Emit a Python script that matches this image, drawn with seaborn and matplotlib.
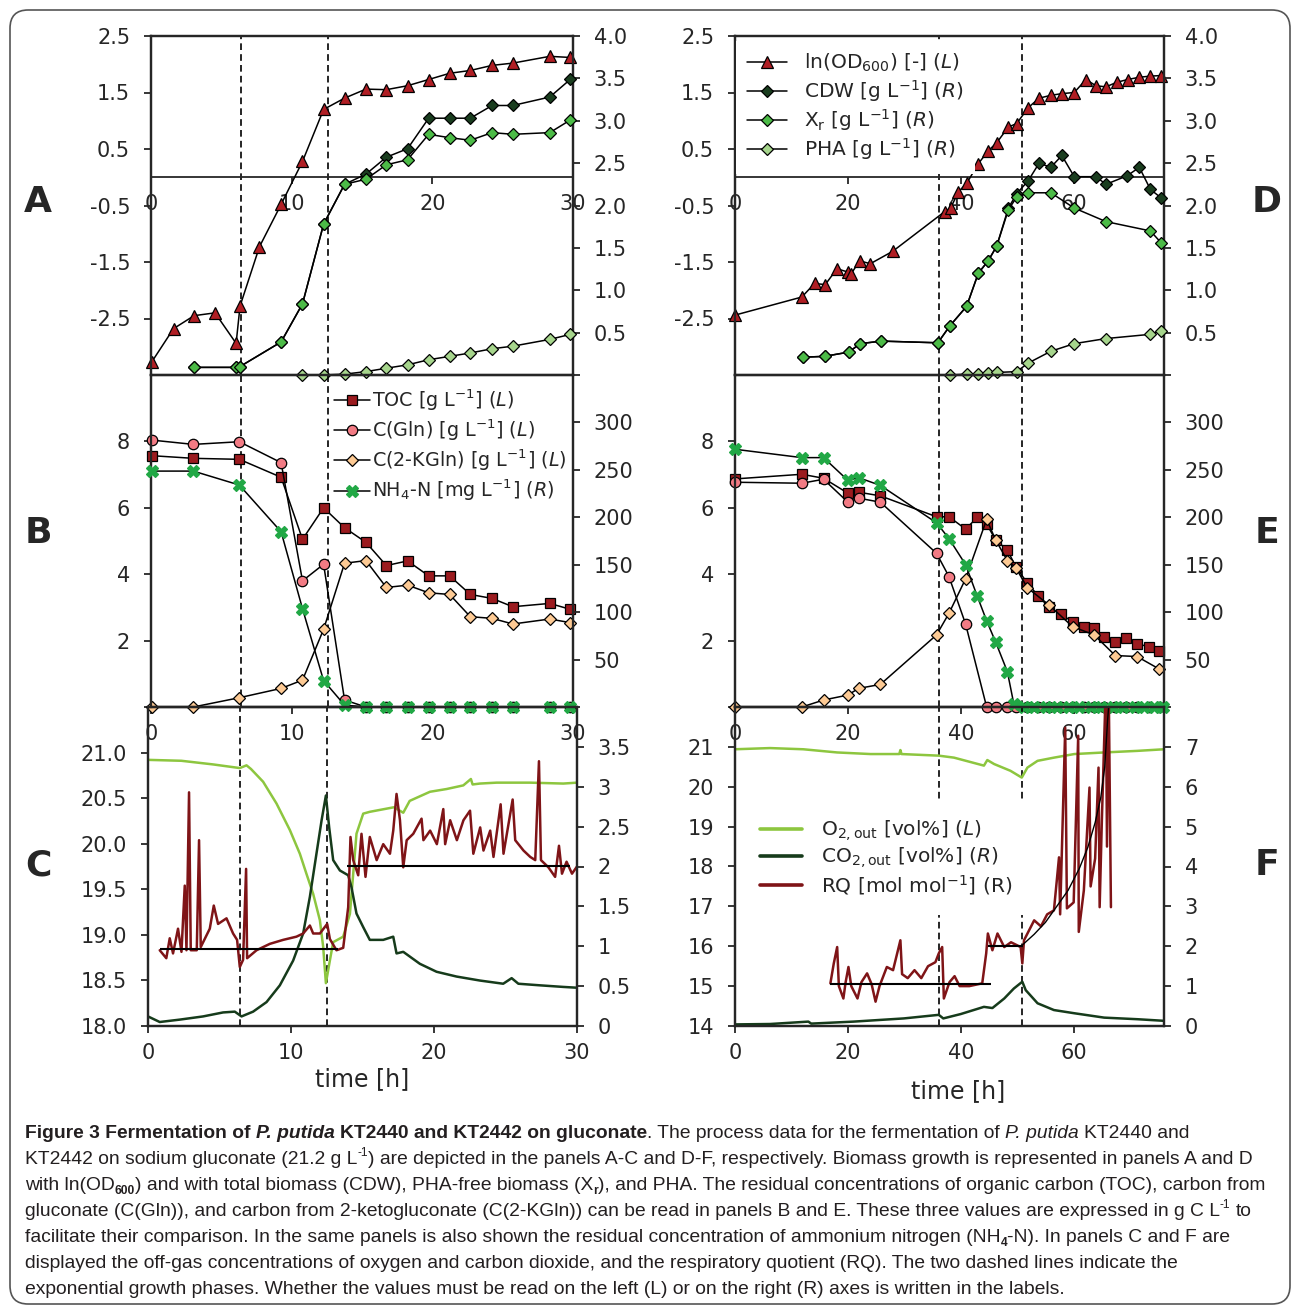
import matplotlib
matplotlib.use('Agg')
import matplotlib.pyplot as plt
import seaborn as sns
from matplotlib.patches import FancyBboxPatch

# ---------------- data ----------------
# panel A (KT2440, biomass)
a_t_od = [0.05, 1.6, 3.06, 4.55, 6.05, 6.33, 7.71, 9.25, 10.77, 12.27, 13.76, 15.28, 16.73,
          18.24, 19.74, 21.23, 22.7, 24.25, 25.72, 28.35, 29.82]
a_od = [-3.27, -2.68, -2.45, -2.40, -2.94, -2.28, -1.23, -0.48, 0.28, 1.20, 1.40, 1.56, 1.55,
        1.62, 1.73, 1.84, 1.89, 1.98, 2.02, 2.14, 2.12]
a_t_bio = [3.06, 6.05, 6.33, 9.25, 10.77, 12.27, 13.76, 15.28, 16.73, 18.24, 19.74, 21.23,
           22.7, 24.25, 25.72, 28.35, 29.82]
a_cdw = [0.09, 0.09, 0.10, 0.39, 0.84, 1.78, 2.25, 2.37, 2.57, 2.67, 3.03, 3.03, 3.03, 3.18,
         3.18, 3.28, 3.49]
a_xr = [0.09, 0.09, 0.10, 0.39, 0.84, 1.78, 2.25, 2.31, 2.48, 2.54, 2.84, 2.80, 2.77, 2.86,
        2.84, 2.86, 3.01]
a_t_pha = [10.77, 12.27, 13.76, 15.28, 16.73, 18.24, 19.74, 21.23, 22.7, 24.25, 25.72, 28.35, 29.82]
a_pha = [0.0, 0.0, 0.01, 0.04, 0.08, 0.12, 0.18, 0.22, 0.26, 0.31, 0.34, 0.42, 0.48]

# panel D (KT2442, biomass)
d_t_od = [0, 11.84, 14.09, 15.99, 18.06, 20.1, 20.5, 22.08, 23.98, 27.95, 37.12, 38.19, 39.55,
          41.03, 43.1, 44.88, 46.36, 48.43, 49.91, 51.92, 53.88, 55.95, 57.9, 60.1, 62.17, 63.94,
          65.72, 67.61, 69.57, 71.63, 73.59, 75.49]
d_od = [-2.44, -2.12, -1.88, -1.90, -1.62, -1.68, -1.72, -1.48, -1.53, -1.31, -0.61, -0.55, -0.26,
        -0.11, 0.24, 0.47, 0.61, 0.89, 0.95, 1.23, 1.40, 1.45, 1.48, 1.50, 1.73, 1.62,
        1.60, 1.68, 1.73, 1.77, 1.79, 1.80]
d_t_cdw = [12.02, 15.87, 20.13, 22.2, 25.93, 35.94, 38.07, 41.03, 43.1, 44.88, 46.36, 48.43,
           49.91, 51.92, 53.88, 55.95, 57.9, 60.1, 63.94, 65.72, 69.45, 71.63, 73.59, 75.49]
d_cdw = [0.21, 0.22, 0.27, 0.37, 0.40, 0.38, 0.58, 0.81, 1.20, 1.35, 1.52, 1.97,
         2.14, 2.29, 2.50, 2.45, 2.59, 2.34, 2.34, 2.25, 2.35, 2.45, 2.19, 2.09]
d_t_xr = [12.02, 15.87, 20.13, 22.2, 25.93, 35.94, 38.07, 41.03, 43.1, 44.88, 46.36, 48.43,
          49.91, 51.92, 55.95, 60.1, 65.72, 73.59, 75.49]
d_xr = [0.21, 0.22, 0.27, 0.37, 0.40, 0.38, 0.58, 0.81, 1.20, 1.35, 1.52, 1.95,
        2.10, 2.15, 2.15, 1.97, 1.81, 1.70, 1.56]
d_t_pha = [38.07, 41.03, 43.1, 44.88, 46.36, 49.91, 51.92, 55.95, 60.1, 65.72, 73.59, 75.49]
d_pha = [0.0, 0.01, 0.01, 0.02, 0.03, 0.04, 0.14, 0.28, 0.37, 0.43, 0.48, 0.52]

# panel B (KT2440, carbon / nitrogen)
b_t = [0.05, 3.01, 6.28, 9.25, 10.77, 12.27, 13.76, 15.28, 16.73, 18.24, 19.74, 21.23, 22.7,
       24.25, 25.72, 28.35, 29.82]
b_toc = [7.57, 7.49, 7.46, 6.92, 5.05, 6.00, 5.40, 4.96, 4.26, 4.40, 3.95, 3.95, 3.39, 3.27,
         3.02, 3.12, 2.94]
b_gln = [8.04, 7.91, 7.99, 7.36, 3.80, 4.30, 0.21, 0, 0, 0, 0, 0, 0, 0, 0, 0, 0]
b_kgln = [0.0, 0.0, 0.28, 0.56, 0.81, 2.34, 4.33, 4.41, 3.60, 3.67, 3.44, 3.39, 2.72, 2.67,
          2.50, 2.65, 2.54]
b_nh4 = [248.7, 248.7, 234.0, 184.7, 103.6, 27.8, 2.0, 0, 0, 0, 0, 0, 0, 0, 0, 0, 0]

# panel E (KT2442, carbon / nitrogen)
e_t = [0, 11.84, 15.69, 20.0, 21.9, 25.75, 35.7, 37.9, 40.85, 42.93, 44.58, 46.18, 48.25, 49.73,
       51.8, 53.7, 55.65, 57.73, 59.8, 61.76, 63.64, 65.42, 67.37, 69.27, 71.23, 73.3, 75.19]
e_toc = [6.87, 7.01, 6.89, 6.44, 6.47, 6.36, 5.73, 5.73, 5.36, 5.71, 5.51, 5.03, 4.73, 4.23,
         3.73, 3.35, 3.00, 2.79, 2.57, 2.40, 2.37, 2.12, 1.97, 2.09, 1.90, 1.82, 1.69]
e_t_gln = [0, 11.84, 15.69, 20.0, 21.9, 25.75, 35.7, 37.9, 40.85, 44.58, 46.18, 48.25, 49.73,
           51.8, 53.7, 55.65, 57.73, 59.8, 61.76, 63.64, 65.42, 67.37, 69.27, 71.23, 73.3, 75.19]
e_gln = [6.77, 6.74, 6.86, 6.17, 6.29, 6.17, 4.63, 3.93, 2.50, 0, 0, 0, 0,
         0, 0, 0, 0, 0, 0, 0, 0, 0, 0, 0, 0, 0]
e_t_kgln = [0, 11.84, 15.69, 20.0, 21.9, 25.75, 35.7, 37.9, 40.85, 44.58, 46.18, 48.25, 49.73,
            51.8, 55.65, 59.8, 63.64, 67.37, 71.23, 75.19]
e_kgln = [0, 0, 0.21, 0.36, 0.56, 0.68, 2.17, 2.82, 3.86, 5.65, 5.03, 4.41, 4.20,
          3.59, 3.07, 2.42, 2.17, 1.55, 1.52, 1.14]
e_t_nh4 = [0, 11.84, 15.69, 20.0, 21.9, 25.75, 35.7, 37.9, 40.85, 42.93, 44.58, 46.18, 48.25,
           49.4, 51.2, 53.0, 55.1, 57.1, 59.2, 61.0, 63.1, 64.8, 66.9, 68.7, 70.8, 72.5, 74.3, 75.8]
e_nh4 = [271.7, 262.9, 262.9, 238.9, 241.8, 233.6, 194.2, 177.6, 150.1, 116.6, 90.9, 68.4, 37.3,
         3.0, 0, 0, 0, 0, 0, 0, 0, 0, 0, 0, 0, 0, 0, 0]

# panel C (KT2440, off-gas)
c_t_o2 = [0, 2.33, 4.55, 6.42, 6.89, 7.2, 8.05, 8.99, 9.92, 10.62, 11.08, 11.55, 12.02, 12.25,
          12.44, 12.72, 12.95, 13.65, 14.12, 14.58, 15.05, 15.51, 17.2, 17.85, 18.3, 19.72,
          20.88, 22.05, 22.58, 22.7, 23.21, 24.38, 26.71, 29.04, 30]
c_o2 = [20.92, 20.91, 20.87, 20.83, 20.86, 20.82, 20.68, 20.44, 20.15, 19.89, 19.67, 19.45,
        19.16, 18.87, 18.47, 18.72, 18.92, 18.98, 19.23, 20.11, 20.33, 20.35, 20.40, 20.34,
        20.47, 20.57, 20.60, 20.64, 20.71, 20.65, 20.66, 20.67, 20.67, 20.66, 20.67]
c_t_co2 = [0, 0.82, 2.22, 3.85, 5.25, 6.07, 6.54, 7.35, 8.29, 9.22, 10.15, 10.85, 11.32, 11.78,
           12.14, 12.44, 12.67, 12.95, 13.42, 14.0, 14.23, 14.58, 15.05, 15.51, 16.45, 17.15,
           17.38, 17.85, 19.01, 20.18, 21.58, 23.21, 24.84, 25.43, 25.9, 27.41, 29.04, 30]
c_co2 = [0.12, 0.05, 0.08, 0.12, 0.17, 0.18, 0.12, 0.18, 0.30, 0.51, 0.82, 1.16, 1.62, 2.16,
         2.58, 2.89, 2.49, 2.08, 1.95, 1.89, 1.74, 1.41, 1.24, 1.08, 1.08, 1.12, 0.91, 0.93,
         0.78, 0.68, 0.62, 0.57, 0.53, 0.60, 0.53, 0.51, 0.49, 0.48]
c_t_rq = [0.82, 1.28, 1.52, 1.75, 2.10, 2.34, 2.57, 2.69, 2.87, 2.99,
          3.41, 3.57, 3.69, 4.32, 4.6, 4.9, 5.49, 5.95, 6.23, 6.42,
          6.65, 6.86, 6.93, 7.59, 8.52, 9.45, 10.38, 10.85, 11.32, 11.55,
          12.02, 12.53, 12.72, 13.18, 13.65, 14.0, 14.16, 14.35, 14.7, 14.93,
          15.21, 15.51, 15.99, 16.45, 16.92, 17.15, 17.38, 17.62, 17.85, 18.09,
          18.55, 19.13, 19.26, 19.73, 20.2, 20.65, 20.78, 21.13, 21.6, 22.06,
          22.52, 22.75, 23.23, 23.46, 23.93, 24.16, 24.66, 24.86, 25.5, 25.68,
          26.26, 26.73, 27.08, 27.34, 27.48, 28.0, 28.47, 28.74, 28.95, 29.27,
          29.65, 30.0]
c_rq = [0.95, 0.85, 1.10, 0.91, 1.22, 0.93, 1.76, 0.95, 2.93, 0.95,
        0.95, 2.33, 0.99, 1.22, 1.51, 1.28, 1.35, 1.16, 1.08, 0.74,
        0.83, 1.97, 0.85, 0.95, 1.03, 1.08, 1.12, 1.16, 1.26, 1.16,
        1.16, 1.28, 1.09, 0.95, 0.98, 1.49, 2.37, 2.08, 1.89, 2.41,
        1.87, 2.37, 2.08, 2.28, 2.16, 2.45, 2.91, 2.58, 1.99, 2.33,
        2.41, 2.60, 2.33, 2.45, 2.28, 2.72, 2.28, 2.58, 2.33, 2.58,
        2.70, 2.16, 2.49, 2.20, 2.45, 2.12, 2.78, 2.16, 2.84, 2.33,
        2.20, 2.12, 2.08, 3.32, 2.08, 1.99, 1.87, 2.26, 1.91, 2.06,
        1.91, 2.00]
c_rq_mean = [0.96, 2.01]
c_rq_from = [0.82, 13.9]
c_rq_to = [13.3, 29.5]

# panel F (KT2442, off-gas)
f_t_o2 = [0, 6.2, 12.1, 18.1, 24.0, 29.1, 29.3, 29.5, 36.1, 38.8, 44.1, 44.7, 45.9, 48.8, 50.8,
          51.8, 53.6, 56.5, 60.1, 65.4, 71.3, 76]
f_o2 = [20.94, 20.97, 20.94, 20.86, 20.82, 20.82, 20.92, 20.82, 20.78, 20.73, 20.53, 20.67,
        20.57, 20.40, 20.23, 20.48, 20.65, 20.73, 20.82, 20.86, 20.90, 20.94]
f_t_co2 = [0, 6.2, 13.0, 13.5, 21.0, 29.9, 36.1, 36.9, 40.0, 44.1, 45.6, 47.7, 49.4, 50.9, 51.5,
           53.6, 56.5, 60.1, 65.4, 71.3, 76]
f_co2 = [0.04, 0.05, 0.11, 0.06, 0.11, 0.19, 0.28, 0.19, 0.30, 0.48, 0.45, 0.69, 0.94, 1.11,
         0.90, 0.57, 0.40, 0.32, 0.21, 0.17, 0.13]
f_t_rq = [16.9, 17.5, 18.1, 18.4, 19.2, 19.6, 20.1, 20.6, 21.7, 22.4,
          23.4, 24.2, 24.9, 25.6, 26.9, 28.0, 29.3, 29.6, 30.6, 31.8,
          33.0, 34.2, 35.5, 36.1, 36.7, 37.0, 38.0, 38.9, 39.8, 41.5,
          43.8, 44.5, 44.8, 45.6, 46.5, 47.7, 48.9, 50.6, 50.9, 51.2,
          53.0, 54.2, 55.3, 56.5, 57.4, 57.6, 58.5, 58.8, 60.0, 60.8,
          60.9, 61.8, 62.8, 63.0, 63.8, 64.4, 64.6, 65.0, 65.7, 65.9,
          66.2, 66.6]
f_rq = [1.07, 1.57, 1.98, 1.00, 0.69, 1.10, 1.48, 1.00, 0.69, 1.10,
        1.32, 1.05, 0.61, 1.00, 1.48, 1.40, 2.15, 1.30, 1.20, 1.40,
        1.20, 1.50, 1.60, 1.82, 1.98, 0.69, 1.10, 1.25, 1.00, 1.00,
        1.07, 1.82, 2.32, 1.90, 2.32, 1.98, 2.10, 1.98, 1.57, 2.15,
        2.65, 2.50, 2.80, 2.90, 4.23, 2.80, 7.48, 2.95, 3.10, 7.28,
        2.36, 3.40, 5.98, 3.50, 4.20, 6.48, 2.98, 5.20, 8.60, 4.50,
        8.60, 2.98]
f_t_fit = [50.9, 53.0, 55.0, 57.0, 59.0, 61.0, 62.5, 63.8, 64.8, 65.5, 66.0, 66.3]
f_fit = [2.03, 2.30, 2.60, 3.00, 3.40, 3.95, 4.48, 5.10, 5.73, 6.50, 7.65, 8.20]
f_rq_mean = [1.05, 2.0]
f_rq_from = [16.9, 44.8]
f_rq_to = [45.4, 51.1]

# exponential growth phases (dashed lines)
phase_1 = [6.4, 12.55]
phase_2 = [36.1, 50.8]

# ---------------- style ----------------
sns.set_style('ticks')
plt.rcParams['font.family'] = ['DejaVu Sans']
plt.rcParams['mathtext.fontset'] = 'dejavusans'
plt.rcParams['axes.unicode_minus'] = False

red_tri = '#b01e24'
cdw_col = '#1a3d1f'
xr_col = '#4cbb47'
pha_col = '#a6d58c'
toc_col = '#9b1b1f'
gln_col = '#f27b84'
kgln_col = '#fdca94'
nh4_col = '#21a845'
o2_col = '#8dc63f'
co2_col = '#163b1b'
rq_col = '#7f1417'

W, H = 1293, 1308
fig = plt.figure(figsize=(W / 100, H / 100), dpi=100)


def box(x0, y0, x1, y1):
    return [x0 / W, 1 - y1 / H, (x1 - x0) / W, (y1 - y0) / H]


def make_axes(rect):
    ax = fig.add_axes(rect)
    ax.patch.set_visible(False)
    ax2 = ax.twinx()
    for a in (ax, ax2):
        for s in a.spines.values():
            s.set_linewidth(1.6)
    ax.tick_params(axis='both', direction='out', length=5, width=1.3, labelsize=15, pad=10)
    ax.tick_params(axis='x', pad=7)
    ax2.tick_params(axis='y', direction='out', length=5, width=1.3, labelsize=15, pad=10)
    ax.grid(False)
    ax2.grid(False)
    return ax, ax2


def marked(ax, t, v, marker, face, size, edge='black', label=None):
    sns.lineplot(x=t, y=v, ax=ax, estimator=None, sort=False, legend=False,
                 color='black', linewidth=1.1, marker=marker, markersize=size,
                 markerfacecolor=face, markeredgecolor=edge, markeredgewidth=0.9,
                 label=label, clip_on=False, zorder=3)
    return ax.lines[-1]


def trace(ax, t, v, color, lw=1.8, label=None):
    sns.lineplot(x=t, y=v, ax=ax, estimator=None, sort=False, legend=False,
                 color=color, linewidth=lw, label=label, zorder=2)
    return ax.lines[-1]


def dashed(ax, times):
    for t in times:
        ax.axvline(t, color='black', lw=1.2, ls=(0, (4, 2.5)), zorder=1)


def white_frame(leg):
    leg.get_frame().set_facecolor('white')
    leg.get_frame().set_edgecolor('none')
    leg.get_frame().set_alpha(1)


lab_od = r'ln(OD$_{600}$) [-] $\it{(L)}$'
lab_cdw = r'CDW [g L$^{-1}$] $\it{(R)}$'
lab_xr = r'X$_{\mathrm{r}}$ [g L$^{-1}$] $\it{(R)}$'
lab_pha = r'PHA [g L$^{-1}$] $\it{(R)}$'
lab_toc = r'TOC [g L$^{-1}$] $\it{(L)}$'
lab_gln = r'C(Gln) [g L$^{-1}$] $\it{(L)}$'
lab_kgln = r'C(2-KGln) [g L$^{-1}$] $\it{(L)}$'
lab_nh4 = r'NH$_4$-N [mg L$^{-1}$] $\it{(R)}$'
lab_o2 = r'O$_{2,\mathrm{out}}$ [vol%] $\it{(L)}$'
lab_co2 = r'CO$_{2,\mathrm{out}}$ [vol%] $\it{(R)}$'
lab_rq = r'RQ [mol mol$^{-1}$] (R)'

# ---------------- biomass panels A and D ----------------
for rect, xmax, xt, data, phases, with_legend in [
        (box(151, 36, 573, 375), 30, [0, 10, 20, 30],
         (a_t_od, a_od, a_t_bio, a_cdw, a_t_bio, a_xr, a_t_pha, a_pha), phase_1, False),
        (box(735, 36, 1164, 375), 76, [0, 20, 40, 60],
         (d_t_od, d_od, d_t_cdw, d_cdw, d_t_xr, d_xr, d_t_pha, d_pha), phase_2, True)]:
    ax, ax2 = make_axes(rect)
    t_od, od, t_cdw, cdw, t_xr, xr, t_pha, pha = data
    dashed(ax, phases)
    h1 = marked(ax, t_od, od, '^', red_tri, 9, label=lab_od)
    h2 = marked(ax2, t_cdw, cdw, 'D', cdw_col, 6, label=lab_cdw)
    h3 = marked(ax2, t_xr, xr, 'D', xr_col, 6, label=lab_xr)
    h4 = marked(ax2, t_pha, pha, 'D', pha_col, 6, label=lab_pha)
    ax.set_xlim(0, xmax)
    ax.set_ylim(-3.5, 2.5)
    ax2.set_ylim(0, 4)
    ax.spines['bottom'].set_position(('data', 0))
    ax.spines['bottom'].set_linewidth(1.3)
    ax.set_xticks(xt)
    ax.set_yticks([-2.5, -1.5, -0.5, 0.5, 1.5, 2.5])
    ax2.set_yticks([0, 0.5, 1, 1.5, 2, 2.5, 3, 3.5, 4],
                   ['', '0.5', '1.0', '1.5', '2.0', '2.5', '3.0', '3.5', '4.0'])
    if with_legend:
        leg = ax2.legend(handles=[h1, h2, h3, h4], loc='upper left',
                         bbox_to_anchor=(0.002, 0.985), borderaxespad=0, borderpad=0.55,
                         fontsize=14.5, handlelength=2.0, handletextpad=0.85,
                         labelspacing=0.17, frameon=True, fancybox=False)
        white_frame(leg)

# ---------------- carbon panels B and E ----------------
for rect, xmax, xt, data, phases, with_legend in [
        (box(151, 375, 573, 707), 30, [0, 10, 20, 30],
         (b_t, b_toc, b_t, b_gln, b_t, b_kgln, b_t, b_nh4), phase_1, True),
        (box(735, 375, 1164, 707), 76, [0, 20, 40, 60],
         (e_t, e_toc, e_t_gln, e_gln, e_t_kgln, e_kgln, e_t_nh4, e_nh4), phase_2, False)]:
    ax, ax2 = make_axes(rect)
    t_toc, toc, t_gln, gln, t_kg, kg, t_nh, nh = data
    dashed(ax, phases)
    h1 = marked(ax, t_toc, toc, 's', toc_col, 7.5, label=lab_toc)
    h2 = marked(ax, t_gln, gln, 'o', gln_col, 7.5, label=lab_gln)
    h3 = marked(ax, t_kg, kg, 'D', kgln_col, 6, label=lab_kgln)
    h4 = marked(ax2, t_nh, nh, 'X', nh4_col, 9, edge=nh4_col, label=lab_nh4)
    ax.set_xlim(0, xmax)
    ax.set_ylim(0, 10)
    ax2.set_ylim(0, 350)
    ax.set_xticks(xt)
    ax.set_yticks([0, 2, 4, 6, 8], ['', '2', '4', '6', '8'])
    ax2.set_yticks([0, 50, 100, 150, 200, 250, 300],
                   ['', '50', '100', '150', '200', '250', '300'])
    if with_legend:
        ax2.legend(handles=[h1, h2, h3, h4], loc='upper left',
                   bbox_to_anchor=(0.42, 0.981), borderaxespad=0, borderpad=0.3,
                   fontsize=13.8, handlelength=1.9, handletextpad=0.1,
                   labelspacing=0.25, frameon=False)

# ---------------- off-gas panels C and F ----------------
for rect, xmax, xt, data, phases, lims, ticks, with_legend, lab_xy in [
        (box(148, 707, 577, 1026), 30, [0, 10, 20, 30],
         (c_t_o2, c_o2, c_t_co2, c_co2, c_t_rq, c_rq, None, None,
          c_rq_mean, c_rq_from, c_rq_to), phase_1,
         ((18, 21.5), (0, 4)),
         ([18.0, 18.5, 19.0, 19.5, 20.0, 20.5, 21.0],
          ['18.0', '18.5', '19.0', '19.5', '20.0', '20.5', '21.0'],
          [0, 0.5, 1, 1.5, 2, 2.5, 3, 3.5],
          ['0', '0.5', '1', '1.5', '2', '2.5', '3', '3.5']),
         False, (0.5, -0.13)),
        (box(735, 707, 1164, 1026), 76, [0, 20, 40, 60],
         (f_t_o2, f_o2, f_t_co2, f_co2, f_t_rq, f_rq, f_t_fit, f_fit,
          f_rq_mean, f_rq_from, f_rq_to), phase_2,
         ((14, 22), (0, 8)),
         (list(range(14, 22)), [str(v) for v in range(14, 22)],
          list(range(0, 8)), [str(v) for v in range(0, 8)]),
         True, (0.52, -0.165))]:
    ax, ax2 = make_axes(rect)
    t_o2, o2, t_co2, co2, t_rq, rq, t_fit, fit, rq_m, rq_a, rq_b = data
    dashed(ax, phases)
    h1 = trace(ax, t_o2, o2, o2_col, label=lab_o2)
    h2 = trace(ax2, t_co2, co2, co2_col, label=lab_co2)
    h3 = trace(ax2, t_rq, rq, rq_col, label=lab_rq)
    ax2.hlines(rq_m, rq_a, rq_b, color='black', lw=1.5, zorder=4)
    if t_fit is not None:
        trace(ax2, t_fit, fit, 'black', lw=1.0)
    ax.set_xlim(0, xmax)
    ax.set_ylim(*lims[0])
    ax2.set_ylim(*lims[1])
    ax.set_xticks(xt)
    ax.set_yticks(ticks[0], ticks[1])
    ax2.set_yticks(ticks[2], ticks[3])
    ax.set_xlabel('time [h]', fontsize=17)
    ax.xaxis.set_label_coords(*lab_xy)
    if with_legend:
        leg = ax2.legend(handles=[h1, h2, h3], loc='upper left',
                         bbox_to_anchor=(0.015, 0.708), borderaxespad=0, borderpad=0.9,
                         fontsize=14.5, handlelength=2.1, handletextpad=0.95,
                         labelspacing=0.12, frameon=True, fancybox=False)
        white_frame(leg)
        for ln in leg.get_lines():
            ln.set_linewidth(2.6)

# panel letters
for letter, x, y in [('A', 38, 202), ('B', 38, 533), ('C', 38, 865),
                     ('D', 1267, 202), ('E', 1267, 533), ('F', 1267, 865)]:
    fig.text(x / W, 1 - y / H, letter, fontsize=26, fontweight='bold',
             ha='center', va='center')

# ---------------- caption ----------------
cap_lines = [
    [('Figure 3 Fermentation of ', 'b'), ('P. putida', 'bi'),
     (' KT2440 and KT2442 on gluconate', 'b'),
     ('. The process data for the fermentation of ', 'n'), ('P. putida', 'i'),
     (' KT2440 and', 'n')],
    [('KT2442 on sodium gluconate (21.2 g L', 'n'), ('-1', 'sup'),
     (') are depicted in the panels A-C and D-F, respectively. Biomass growth is represented in panels A and D', 'n')],
    [('with ln(OD', 'n'), ('600', 'sub'),
     (') and with total biomass (CDW), PHA-free biomass (X', 'n'), ('r', 'sub'),
     ('), and PHA. The residual concentrations of organic carbon (TOC), carbon from', 'n')],
    [('gluconate (C(Gln)), and carbon from 2-ketogluconate (C(2-KGln)) can be read in panels B and E. These three values are expressed in g C L', 'n'),
     ('-1', 'sup'), (' to', 'n')],
    [('facilitate their comparison. In the same panels is also shown the residual concentration of ammonium nitrogen (NH', 'n'),
     ('4', 'sub'), ('-N). In panels C and F are', 'n')],
    [('displayed the off-gas concentrations of oxygen and carbon dioxide, and the respiratory quotient (RQ). The two dashed lines indicate the', 'n')],
    [('exponential growth phases. Whether the values must be read on the left (L) or on the right (R) axes is written in the labels.', 'n')],
]
cap_fonts = ['Liberation Sans Narrow', 'Liberation Sans', 'DejaVu Sans']
cap_color = '#231f20'
renderer = fig.canvas.get_renderer()


def seg_props(style, size):
    kw = dict(fontsize=size, family=cap_fonts, color=cap_color)
    if 'b' in style:
        kw['fontweight'] = 'bold'
    if 'i' in style:
        kw['fontstyle'] = 'italic'
    if style in ('sup', 'sub'):
        kw['fontsize'] = size * 0.62
    return kw


def text_w(s, kw):
    t = fig.text(0, 0, s, **kw)
    w = t.get_window_extent(renderer).width
    t.remove()
    return w


def lay_line(segs, size, y, draw=True):
    x = 25.0
    for s, st in segs:
        kw = seg_props(st, size)
        core = s.strip(' ')
        lead = len(s) - len(s.lstrip(' '))
        trail = len(s) - len(s.rstrip(' '))
        sp = text_w('a a', kw) - text_w('aa', kw)
        x += lead * sp
        if core:
            if draw:
                dy = {'sup': 0.42, 'sub': -0.22}.get(st, 0) * size * 100 / 72
                fig.text(x / W, 1 - (y - dy) / H, core, ha='left', va='baseline', **kw)
            x += text_w(core, kw)
        x += trail * sp
    return x - 25.0


widest = max(lay_line(segs, 14, 0, draw=False) for segs in cap_lines)
cap_size = 14 * 1250 / widest
for i, segs in enumerate(cap_lines):
    lay_line(segs, cap_size, 1138 + 26 * i)

# rounded border around the whole figure
fig.patches.append(FancyBboxPatch((10 / W, 4 / H), 1280 / W, 1294 / H,
                                  boxstyle='round,pad=0,rounding_size=0.014',
                                  transform=fig.transFigure, fill=False,
                                  ec='#555555', lw=1.2))

fig.savefig('out.png', dpi=100)
